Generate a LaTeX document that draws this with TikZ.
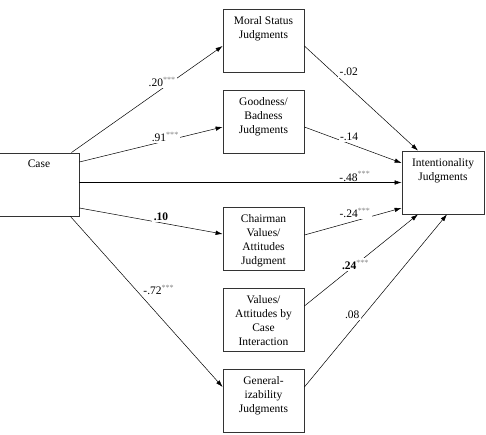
\documentclass[tikz,border=0pt]{standalone}
\usepackage{fontspec}
\setmainfont{Liberation Serif}
\usetikzlibrary{arrows.meta}
\newcommand{\sigstars}{\textsuperscript{\color{gray}***}}
\tikzset{
  judgbox/.style={draw=black!80, line width=0.8pt, minimum width=81pt, minimum height=63pt, inner sep=0pt},
  boxtext/.style={anchor=north, align=center, inner sep=0pt, yshift=-7.5pt},
  path/.style={line width=0.5pt, -{Latex[length=7pt,width=4.5pt]}},
  coef/.style={fill=white, inner sep=1.5pt}
}

\begin{document}
\begin{tikzpicture}[x=1pt, y=-1pt, font=\fontsize{11.5}{14}\selectfont]
\useasboundingbox (0,0) rectangle (486,434);
\node[judgbox, minimum width=80pt, label={[boxtext, name=caseTxt]north:Case}]                                      (case)      at ( 39,184.5) {};
\node[judgbox, label={[boxtext, name=moralTxt]north:Moral Status\\Judgments}]                                    (moral)     at (263.5, 41) {};
\node[judgbox, label={[boxtext, name=goodTxt]north:Goodness/\\Badness\\Judgments}]                                (good)      at (263.5,121.5) {};
\node[judgbox, label={[boxtext, name=chairTxt]north:Chairman\\Values/\\Attitudes\\Judgment}]                     (chair)     at (263.5,239) {};
\node[judgbox, label={[boxtext, name=valuesTxt]north:Values/\\Attitudes by\\Case\\Interaction}]                  (values)    at (263.5,320) {};
\node[judgbox, label={[boxtext, name=generalTxt]north:General-\\izability\\Judgments}]                            (general)   at (263.5,400.5) {};
\node[judgbox, minimum width=82pt, label={[boxtext, name=intentTxt]north:Intentionality\\Judgments}]             (intent)    at (443,182.5) {};

% paths from case
\draw[path] ([xshift=-8pt]case.north east) -- node[coef, pos=0.6, yshift=7pt]{.20\sigstars} ([yshift=-5pt]moral.west);
\draw[path] ([yshift=22.5pt]case.east) -- node[coef, pos=0.6, yshift=4pt]{.91\sigstars} ([yshift=-5.5pt]good.west);
\draw[path] (case.east |- intent.west) -- node[pos=0.855, above, inner sep=1pt]{-.48\sigstars} (intent.west);
\draw[path] ([yshift=-23.5pt]case.east) -- node[coef, pos=0.57, yshift=6pt]{\textbf{.10}} ([yshift=5pt]chair.west);
\draw[path] ([xshift=-9pt]case.south east) -- node[pos=0.43, anchor=west, xshift=4pt]{-.72\sigstars} ([yshift=13.5pt]general.west);

% paths to intentionality
\draw[path] ([yshift=-5pt]moral.east) -- node[coef, pos=0.25, xshift=16pt]{-.02} ([xshift=-25pt]intent.north);
\draw[path] ([yshift=-5.5pt]good.east) -- node[coef, pos=0.46, yshift=7pt]{-.14} ([yshift=19.5pt]intent.west);
\draw[path] ([yshift=4pt]chair.east) -- node[coef, pos=0.52, yshift=8pt]{-.24\sigstars} ([yshift=-25.5pt]intent.west);
\draw[path] ([yshift=14pt]values.east) -- node[coef, pos=0.45]{\textbf{.24}\sigstars} ([xshift=-25pt]intent.south);
\draw[path] ([yshift=13.5pt]general.east) -- node[coef, pos=0.42, xshift=-12pt]{.08} ([xshift=4pt]intent.south);
\end{tikzpicture}
\end{document}
